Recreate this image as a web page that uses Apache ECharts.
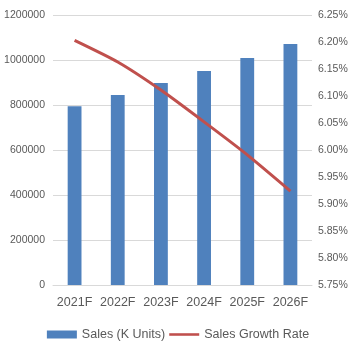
<!DOCTYPE html>
<html><head><meta charset="utf-8">
<script src="https://cdn.jsdelivr.net/npm/echarts@6/dist/echarts.min.js"></script>
<style>html,body{margin:0;padding:0;background:#fff}#c{width:356px;height:358px}</style>
</head><body><div id="c"></div>
<script>
const categories = ['2021F','2022F','2023F','2024F','2025F','2026F'];
const salesValues = [795000, 844000, 898000, 951000, 1009000, 1071000];
const growthRates = [6.203, 6.163, 6.111, 6.052, 5.991, 5.924];
const leftTicks = {min: 0, max: 1200000, interval: 200000};
const rightTicks = {min: 5.75, max: 6.25, interval: 0.05};

const chart = echarts.init(document.getElementById('c'), null, {renderer: 'canvas'});
const txt = '#595959';
chart.setOption({
  animation: false,
  textStyle: {fontFamily: 'Liberation Sans, Arial, sans-serif'},
  grid: {left: 53, right: 44, top: 15, bottom: 73, containLabel: false},
  legend: {
    bottom: 12, left: 'center', itemGap: 4, itemWidth: 30, itemHeight: 8,
    symbolKeepAspect: true,
    textStyle: {color: txt, fontSize: 12.5},
    data: [
      {name: 'Sales (K Units)', icon: 'rect'},
      {name: 'Sales Growth Rate', icon: 'path://M0,0 L35,0 L35,3 L0,3 Z', itemStyle: {color: '#C0504D'}}
    ]
  },
  xAxis: {
    type: 'category', data: categories,
    axisLine: {lineStyle: {color: '#D9D9D9'}},
    axisTick: {show: false},
    axisLabel: {color: txt, fontSize: 12.5, margin: 11, interval: 0}
  },
  yAxis: [{
    type: 'value', min: leftTicks.min, max: leftTicks.max, interval: leftTicks.interval,
    axisLine: {show: false}, axisTick: {show: false},
    splitLine: {lineStyle: {color: '#D9D9D9'}},
    axisLabel: {color: txt, fontSize: 10.5, margin: 8, formatter: v => String(v)}
  }, {
    type: 'value', min: rightTicks.min, max: rightTicks.max, interval: rightTicks.interval,
    axisLine: {show: false}, axisTick: {show: false}, splitLine: {show: false},
    axisLabel: {color: txt, fontSize: 10.5, margin: 6, formatter: v => v.toFixed(2) + '%'}
  }],
  series: [{
    name: 'Sales (K Units)', type: 'bar', data: salesValues, barWidth: '32%',
    itemStyle: {color: '#4F81BD'}
  }, {
    name: 'Sales Growth Rate', type: 'line', yAxisIndex: 1, data: growthRates,
    symbol: 'none', smooth: 0.2, lineStyle: {color: '#C0504D', width: 3}, itemStyle: {color: '#C0504D'}
  }]
});
</script></body></html>
